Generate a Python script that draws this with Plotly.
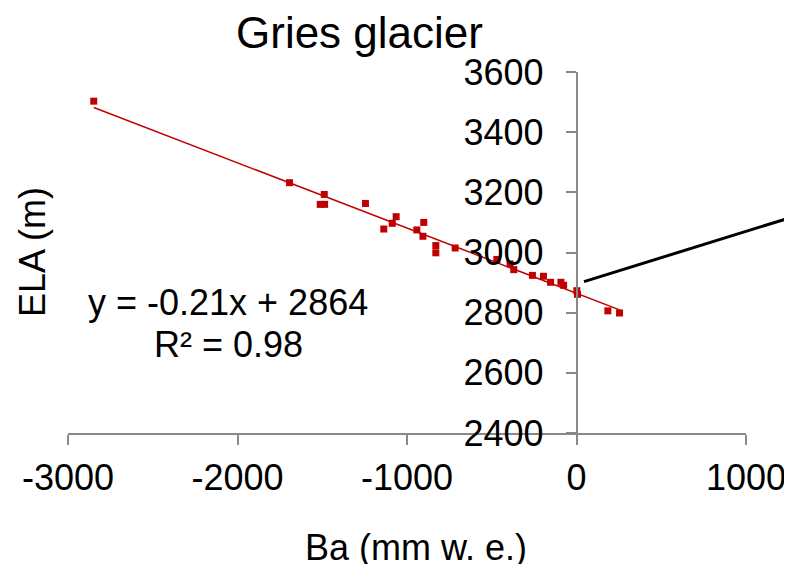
import numpy as np
import plotly.graph_objects as go

ba = [-2848, -1693, -1488, -1512, -1486, -1245, -1137, -1087, -1064, -942,
      -901, -906, -830, -830, -716, -470, -392, -370, -260, -195,
      -153, -92, -76, 2, 6, 185, 254]
ela = [3503, 3232, 3193, 3160, 3160, 3163, 3078, 3097, 3119, 3075,
       3100, 3054, 3023, 2999, 3015, 2977, 2962, 2943, 2924, 2921,
       2901, 2901, 2891, 2873, 2861, 2806, 2799]
x_ticks = [-3000, -2000, -1000, 0, 1000]
x_labels = ["-3000", "-2000", "-1000", "0", "1000"]
y_ticks = [2400, 2600, 2800, 3000, 3200, 3400, 3600]
y_labels = ["2400", "2600", "2800", "3000", "3200", "3400", "3600"]

title_text = "Gries glacier"
x_title = "Ba (mm w. e.)"
y_title = "ELA (m)"
eq_text = "y = -0.21x + 2864"
r2_text = "R² = 0.98"

FONT = "Liberation Sans, Arial, sans-serif"
RED = "#C00000"
GREY = "#898989"

# the page body adds an 8px offset; positions below are in reference pixels
OFF = 8
W, H = 792, 564
L, T = 68 - OFF, 71.5 - OFF
RIGHT_PX, BOTTOM_PX = 746 - OFF, 433.5 - OFF
R, B = W - RIGHT_PX, H - BOTTOM_PX
PW, PH = W - L - R, H - T - B


def px(x):
    return (x - OFF - L) / PW


def py(y):
    return (H - B - (y - OFF)) / PH


slope, intercept = np.polyfit(ba, ela, 1)
xfit = np.array([min(ba), max(ba)])
yfit = slope * xfit + intercept

fig = go.Figure()
fig.add_trace(go.Scatter(x=xfit, y=yfit, mode="lines",
                         line=dict(color=RED, width=1.5), hoverinfo="skip"))
fig.add_trace(go.Scatter(x=ba, y=ela, mode="markers",
                         marker=dict(symbol="square", size=7, color=RED,
                                     line=dict(width=0))))

fig.update_layout(
    width=W, height=H,
    margin=dict(l=L, r=R, t=T, b=B, pad=0, autoexpand=False),
    paper_bgcolor="white", plot_bgcolor="white",
    showlegend=False,
    font=dict(family=FONT, size=36, color="black"),
    xaxis=dict(range=[-3000, 1000], tickvals=x_ticks, ticktext=x_labels,
               ticks="outside", ticklen=10, tickwidth=1.5, tickcolor=GREY,
               showline=True, linecolor=GREY, linewidth=1.5, showgrid=False,
               zeroline=False, automargin=False,
               tickfont=dict(size=36), ticklabelstandoff=2),
    yaxis=dict(range=[2400, 3600], tickvals=y_ticks, ticktext=y_labels,
               ticks="outside", ticklen=10, tickwidth=1.5, tickcolor=GREY,
               showline=True, linecolor=GREY, linewidth=1.5, showgrid=False,
               zeroline=False, automargin=False,
               anchor="free", position=(0 - (-3000)) / 4000,
               tickfont=dict(size=36), ticklabelstandoff=15),
)

fig.add_annotation(text=title_text, xref="paper", yref="paper",
                   x=px(359), y=py(32), showarrow=False,
                   font=dict(size=44), xanchor="center", yanchor="middle")
fig.add_annotation(text=x_title, xref="paper", yref="paper",
                   x=px(416), y=py(548), showarrow=False,
                   xanchor="center", yanchor="middle")
fig.add_annotation(text=y_title, xref="paper", yref="paper",
                   x=px(32), y=py(252), showarrow=False, textangle=-90,
                   xanchor="center", yanchor="middle")
fig.add_annotation(text=eq_text, xref="paper", yref="paper",
                   x=px(228), y=py(303), showarrow=False,
                   xanchor="center", yanchor="middle")
fig.add_annotation(text=r2_text, xref="paper", yref="paper",
                   x=px(228), y=py(345), showarrow=False,
                   xanchor="center", yanchor="middle")

fig.add_shape(type="line", xref="paper", yref="paper",
              x0=px(584), y0=py(281.7), x1=px(800), y1=py(214.5),
              line=dict(color="black", width=3))

fig.write_html("out.html")
